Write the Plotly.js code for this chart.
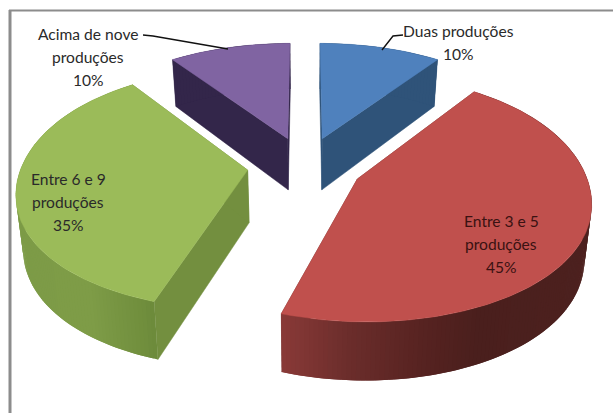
<!DOCTYPE html>
<html>
<head>
<meta charset="utf-8">
<script src="https://cdn.plot.ly/plotly-3.0.1.min.js"></script>
<style>html,body{margin:0;padding:0;background:#fff}#chart{width:613px;height:413px}</style>
</head>
<body>
<div id="chart"></div>
<script>
// Share of people by number of productions
const categories = ["Duas produções", "Entre 3 e 5 produções", "Entre 6 e 9 produções", "Acima de nove produções"];
const values = [10, 45, 35, 10];
const labelLines = [["Duas produções"], ["Entre 3 e 5", "produções"], ["Entre 6 e 9", "produções"], ["Acima de nove", "produções"]];
const labelCenters = [[458, 31], [501, 221], [68, 179], [88, 34]];
const topColors = ["#4f81bd", "#c0504d", "#9bbb59", "#8064a2"];
const faceColors = ["#2f5379", "#6e2e2c", "#738f3f", "#33264a"];
// Horizontal shading of the curved wall: [screen x, r, g, b]
const wallStops = [
  [[320, 47, 83, 121], [440, 47, 83, 121]],
  [[279, 138, 58, 56], [350, 107, 45, 43], [430, 85, 34, 32], [480, 74, 31, 29], [600, 77, 33, 31]],
  [[15, 125, 155, 71], [90, 126, 156, 71], [157, 108, 138, 58]],
  [[170, 51, 38, 74], [290, 51, 38, 74]]
];

// Pie projection: a tilted disc with perspective, each slice pulled out from the centre
const X0 = 305, Y0 = 165.5, A = 231, B = 117, K = 0.15, PULL = 0.25, SIDE_FLATTEN = 0.022;

function project(u, v) {
  const w = 1 - K * v;
  return [X0 + A * u / w, Y0 + B * v / w];
}
function dropped(u, v) {
  const p = project(u, v);
  return [X0 + (p[0] - X0) * 0.975, p[1] + 52.5 + 5.5 * v];
}
function rim(ox, oy, deg) {
  const t = deg * Math.PI / 180;
  const s = Math.sin(t);
  return [ox + s * (1 - SIDE_FLATTEN * s * s * s * s), oy - Math.cos(t)];
}
function shadeAt(stops, x) {
  let c = stops[stops.length - 1].slice(1);
  if (x <= stops[0][0]) c = stops[0].slice(1);
  else for (let i = 1; i < stops.length; i++) {
    if (x <= stops[i][0]) {
      const f = (x - stops[i - 1][0]) / (stops[i][0] - stops[i - 1][0]);
      c = [1, 2, 3].map(k => stops[i - 1][k] + (stops[i][k] - stops[i - 1][k]) * f);
      break;
    }
  }
  return "rgb(" + c.map(Math.round).join(",") + ")";
}
function poly(points, color, edge) {
  const closed = points.concat([points[0]]);
  return {
    type: "scatter", mode: "lines", fill: "toself", fillcolor: color,
    x: closed.map(p => p[0]), y: closed.map(p => p[1]),
    line: {color: color, width: edge}, hoverinfo: "skip", showlegend: false
  };
}

const total = values.reduce((a, b) => a + b, 0);
const traces = [];
const spans = [];
let start = 0;
values.forEach(v => { spans.push([start, start + v / total * 360]); start += v / total * 360; });

// Back slices first so the front ones overlap them
[3, 0, 2, 1].forEach(i => {
  const [a0, a1] = spans[i];
  const mid = (a0 + a1) / 2 * Math.PI / 180;
  const ox = PULL * Math.sin(mid), oy = -PULL * Math.cos(mid);
  const e0 = rim(ox, oy, a0), e1 = rim(ox, oy, a1);

  [e0, e1].forEach(e => {
    traces.push(poly([project(ox, oy), project(e[0], e[1]), dropped(e[0], e[1]), dropped(ox, oy)], faceColors[i], 0.5));
  });

  // Wall bands run over each other by one step, which keeps seams out of the shading
  const steps = Math.ceil(a1 - a0);
  for (let s = 0; s < steps; s++) {
    const p = rim(ox, oy, a0 + (a1 - a0) * s / steps);
    const m = rim(ox, oy, a0 + (a1 - a0) * (s + 1) / steps);
    const q = rim(ox, oy, a0 + (a1 - a0) * Math.min(s + 2, steps) / steps);
    const band = [project(p[0], p[1]), project(q[0], q[1]), dropped(q[0], q[1]), dropped(p[0], p[1])];
    const shade = (project(p[0], p[1])[0] + project(m[0], m[1])[0]) / 2;
    traces.push(poly(band, shadeAt(wallStops[i], shade), 0));
  }

  const top = [project(ox, oy)];
  for (let s = 0; s <= steps; s++) {
    const p = rim(ox, oy, a0 + (a1 - a0) * s / steps);
    top.push(project(p[0], p[1]));
  }
  traces.push(poly(top, topColors[i], 0.5));
});

// Slice labels, one annotation per line to hold the wide line spacing
const annotations = [];
categories.forEach((name, i) => {
  const lines = labelLines[i].concat([values[i] + "%"]);
  lines.forEach((line, n) => {
    annotations.push({
      x: labelCenters[i][0], y: labelCenters[i][1] + n * 23,
      xref: "x", yref: "y", text: line, showarrow: false,
      xanchor: "center", yanchor: "middle",
      font: {family: "Lato, sans-serif", size: 15.6, color: i === 1 ? "#3a1212" : "#2a2a2a"}
    });
  });
});

const shapes = [
  {type: "path", path: "M 143 35 L 153 36 L 228 49", xref: "x", yref: "y", line: {color: "#111", width: 1.4}},
  {type: "path", path: "M 403 35 L 393 36 L 382 50", xref: "x", yref: "y", line: {color: "#111", width: 1.4}},
  {type: "line", x0: 10, x1: 10, y0: 10, y1: 413, xref: "x", yref: "y", line: {color: "#8c8c8c", width: 3}},
  {type: "line", x0: 9, x1: 613, y0: 10.5, y1: 10.5, xref: "x", yref: "y", line: {color: "#8c8c8c", width: 2}}
];

Plotly.newPlot("chart", traces, {
  width: 613, height: 413,
  margin: {l: 0, r: 0, t: 0, b: 0},
  paper_bgcolor: "#fff", plot_bgcolor: "#fff",
  xaxis: {range: [0, 613], visible: false, fixedrange: true},
  yaxis: {range: [413, 0], visible: false, fixedrange: true},
  showlegend: false,
  annotations: annotations,
  shapes: shapes
}, {displayModeBar: false, staticPlot: true});
</script>
</body>
</html>
